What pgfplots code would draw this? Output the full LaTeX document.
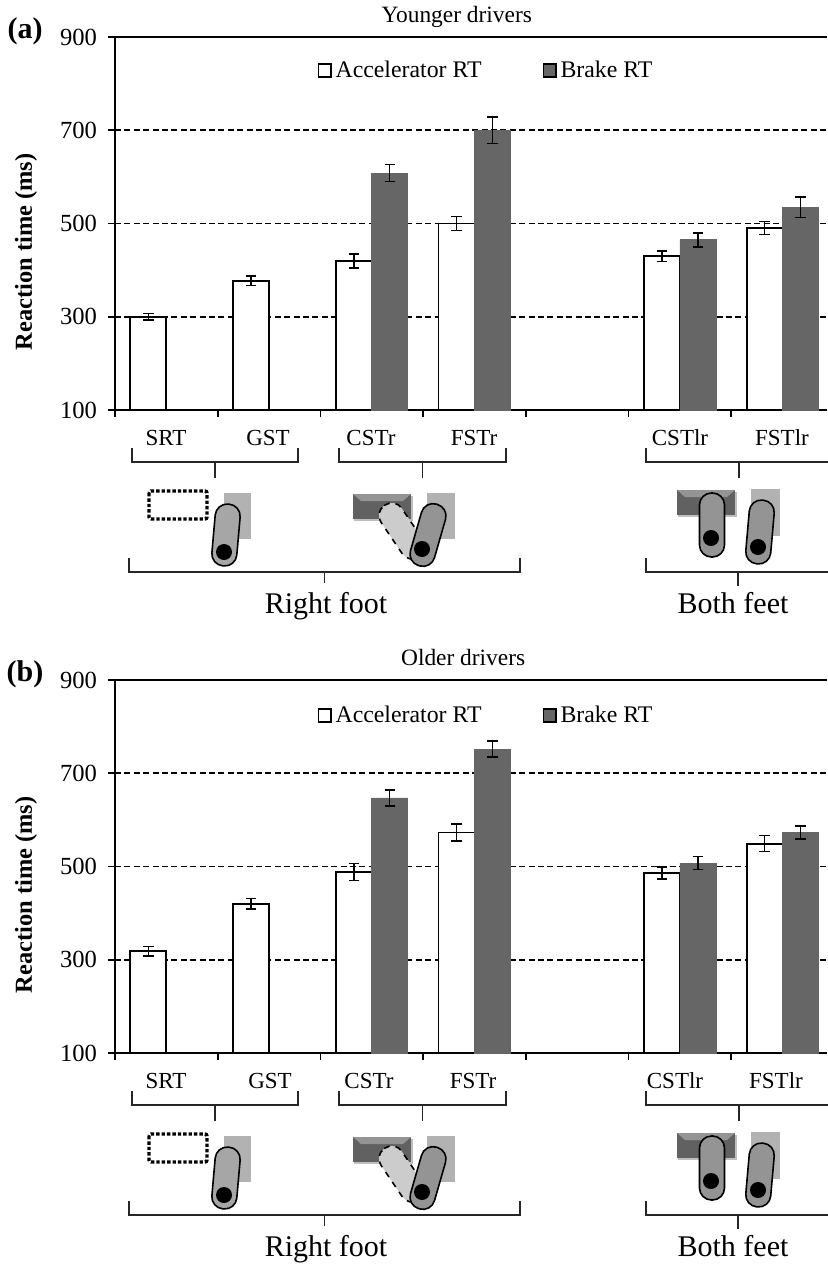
\documentclass[border=0pt]{standalone}
\usepackage{fontspec}
\setmainfont{Liberation Serif}
\usepackage{pgfplots}
\pgfplotsset{compat=1.18}
\definecolor{darkbar}{gray}{0.40}
\definecolor{lightpedal}{gray}{0.70}
\pgfplotsset{rtaxis/.style={
  width=356pt,height=186.5pt,scale only axis,
  xmin=0,xmax=6.932,ymin=100,ymax=900,
  axis lines=left,axis line style={-,black,line width=1pt},
  ytick={100,300,500,700,900},
  xtick={0,1,2,3,4,5,6},xticklabels={},
  tick align=outside,tick pos=left,major tick length=3.5pt,
  tick style={black,line width=0.8pt},
  ymajorgrids,grid style={black,line width=0.8pt,dash pattern=on 3pt off 1.7pt},
  /pgf/number format/assume math mode=true,
  tick label style={font=\fontsize{12.3}{14}\selectfont},
  yticklabel style={xshift=-2pt},
  ylabel={\textbf{Reaction time (ms)}},
  ylabel style={font=\fontsize{12.2}{14}\selectfont,at={(axis description cs:-0.125,0.424)},anchor=center,inner sep=0pt},
  title style={font=\fontsize{11.7}{13}\selectfont,anchor=base,inner sep=0pt,yshift=1.2pt},
  clip=false,
  legend style={draw=none,fill=none,anchor=west,inner sep=0pt,font=\fontsize{11.9}{14}\selectfont,legend columns=2,cells={anchor=west}},
  legend image code/.code={\path[draw=black,line width=0.7pt,##1] (0.5pt,-3.2pt) rectangle (6.8pt,3.2pt);},
  whitebar/.style={ybar,bar width=18pt,bar shift=0pt,draw=black,fill=white,line width=0.9pt,
    error bars/.cd,y dir=both,y explicit,error bar style={black,line width=0.7pt},error mark options={black,line width=0.7pt,mark size=2.6pt,rotate=90}},
  darkbar/.style={ybar,bar width=18pt,bar shift=0pt,draw=darkbar,fill=darkbar,line width=0.4pt,
    error bars/.cd,y dir=both,y explicit,error bar style={black,line width=0.7pt},error mark options={black,line width=0.7pt,mark size=2.6pt,rotate=90}},
}}
% foot capsule: centre x,y ; half length ; angle ; style
\newcommand{\foot}[5]{\begin{scope}[shift={(#1,#2)},rotate=#4]
  \draw[#5,rounded corners=6pt] (-12.5,-#3)--(12.5,-#3)--(12.5,#3)--(-12.5,#3)--cycle;
\end{scope}}
\newcommand{\pedal}[2]{%
  \fill[black!25] (#1+1,#2+2) rectangle (#1+60,#2+27);
  \fill[black!62] (#1,#2) rectangle (#1+58,#2+25);
  \fill[black!42] (#1,#2) -- (#1+58,#2) -- (#1+50,#2+7) -- (#1+8,#2+7) -- cycle;}
\newcommand{\bracket}[4]{\draw[black!85,line width=0.7pt] (#1,#3-14) -- (#1,#3) -- (#2,#3) -- (#2,#3-14);
  \draw[black!85,line width=0.7pt] ({(#1+#2)/2},#3) -- ({(#1+#2)/2},#4);}
\newcommand{\lab}[3]{\node[font=\fontsize{11.5}{13}\selectfont] at (#1,#2) {#3};}
\newcommand{\annot}[7]{% #1 dy, #2-#7 label x
 \begin{scope}[yshift=-#1*0.5pt]
  \lab{#2}{438}{SRT}\lab{#3}{438}{GST}\lab{#4}{438}{CSTr}\lab{#5}{438}{FSTr}\lab{#6}{438}{CSTlr}\lab{#7}{438}{FSTlr}
  \bracket{132}{298}{462}{478}
  \bracket{339}{506}{462}{478}
  \draw[black!85,line width=0.7pt] (646,448) -- (646,462) -- (840,462); \draw[black!85,line width=0.7pt] (739,462) -- (739,478);
  \bracket{129}{520}{572}{583}
  \draw[black!85,line width=0.7pt] (646,558) -- (646,572) -- (840,572); \draw[black!85,line width=0.7pt] (738,572) -- (738,586);
  \draw[black,line width=1.7pt,densely dotted,rounded corners=1pt] (149,491) rectangle (207,519);
  \fill[lightpedal] (224,493) rectangle (251,539);
  \foot{226}{535}{31}{-5}{draw=black,line width=0.8pt,fill=black!35}
  \fill[black] (224,552) circle[radius=8];
  \pedal{353}{494}
  \fill[lightpedal] (427,493) rectangle (455,539);
  \foot{402}{531}{31}{34}{draw=black,dashed,line width=0.8pt,fill=black!20}
  \foot{428}{535}{32}{-16}{draw=black,line width=0.8pt,fill=black!42}
  \fill[black] (422,549) circle[radius=8];
  \pedal{677}{490}
  \foot{712}{525}{32}{0}{draw=black,line width=0.8pt,fill=black!42}
  \fill[black] (711,538) circle[radius=8];
  \fill[lightpedal] (751,489) rectangle (780,536);
  \foot{760}{532}{32}{-5}{draw=black,line width=0.8pt,fill=black!42}
  \fill[black] (758,547) circle[radius=8];
  \node[font=\fontsize{15}{17}\selectfont,anchor=base] at (326,613) {Right foot};
  \node[font=\fontsize{15}{17}\selectfont,anchor=base] at (733,613) {Both feet};
 \end{scope}}
\begin{document}
\begin{tikzpicture}[x=0.5pt,y=-0.5pt]
\path[use as bounding box] (0,0) rectangle (827,1264);
\begin{axis}[rtaxis,at={(57.5pt,-205pt)},anchor=south west,
  title={Younger drivers},title style={at={(axis description cs:0.48,1)}},
  legend style={at={(axis description cs:0.284,0.91)},/tikz/every even column/.append style={column sep=28.5pt}}]
\addplot[whitebar] table[x=x,y=y,y error=e]{
x y e
0.325 300 7
1.325 377 10
2.325 420 15
3.325 500 15
5.325 430 11
6.325 490 14
};
\addplot[darkbar] table[x=x,y=y,y error=e]{
x y e
2.675 608 18
3.675 700 28
5.675 465 15
6.675 535 22
};
\legend{Accelerator RT,Brake RT}
\draw[black,line width=0.9pt] (axis cs:0,900) -- (axis cs:6.932,900);
\end{axis}
\begin{axis}[rtaxis,at={(57.5pt,-526.5pt)},anchor=south west,
  title={Older drivers},title style={at={(axis description cs:0.489,1)}},
  legend style={at={(axis description cs:0.284,0.905)},/tikz/every even column/.append style={column sep=28.5pt}}]
\addplot[whitebar] table[x=x,y=y,y error=e]{
x y e
0.325 318 10
1.325 420 11
2.325 488 18
3.325 573 18
5.325 486 13
6.325 549 17
};
\addplot[darkbar] table[x=x,y=y,y error=e]{
x y e
2.675 647 17
3.675 752 17
5.675 507 14
6.675 573 14
};
\legend{Accelerator RT,Brake RT}
\draw[black,line width=0.9pt] (axis cs:0,900) -- (axis cs:6.932,900);
\end{axis}
\annot{0}{166}{268}{371}{474}{680}{782}
\annot{643}{166}{270}{369}{473}{675}{776}
\node[font=\bfseries\fontsize{15}{17}\selectfont] at (25,31) {(a)};
\node[font=\bfseries\fontsize{15}{17}\selectfont] at (25,674) {(b)};
\end{tikzpicture}
\end{document}
